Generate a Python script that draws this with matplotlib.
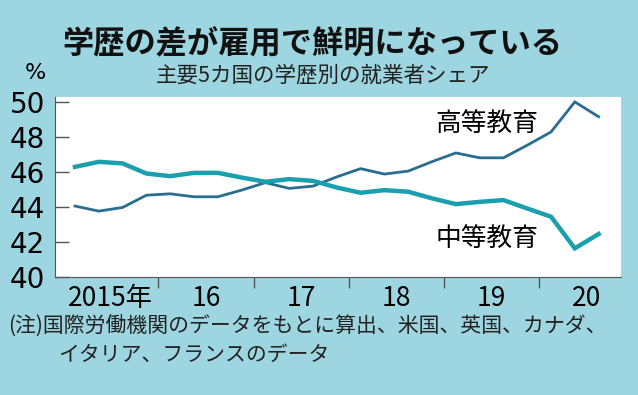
import matplotlib.pyplot as plt

plt.rcParams['font.family'] = ['Noto Sans CJK JP', 'DejaVu Sans']

# quarterly shares, 2015Q1 - 2020Q3 (%)
higher = [44.06, 43.77, 43.98, 44.68, 44.76, 44.59, 44.59, 44.97, 45.4, 45.07, 45.2,
          45.73, 46.2, 45.89, 46.06, 46.6, 47.1, 46.82, 46.82, 47.54, 48.3, 50.02, 49.17]
middle = [46.3, 46.59, 46.5, 45.92, 45.77, 45.96, 45.96, 45.69, 45.45, 45.6, 45.5,
          45.12, 44.82, 44.97, 44.88, 44.5, 44.17, 44.3, 44.4, 43.92, 43.45, 41.64, 42.46]
years = ['2015年', '16', '17', '18', '19', '20']
yticks = [40, 42, 44, 46, 48, 50]

bg = '#9dd6e0'
fig = plt.figure(figsize=(6.38, 3.95), dpi=100, facecolor=bg)
ax = fig.add_axes([55 / 638, 1 - 277 / 395, (621 - 55) / 638, (277 - 97) / 395])
ax.set_facecolor('white')

x = list(range(len(higher)))
ax.plot(x, higher, color='#2a6d8f', lw=2.0, solid_joinstyle='miter')
ax.plot(x, middle, color='#1a9fae', lw=3.2, solid_joinstyle='miter')

ax.set_xlim(-0.84, 22.94)
ax.set_ylim(40, 50.3)
ax.set_yticks(yticks)
ax.set_yticklabels([str(v) for v in yticks], fontsize=20, family='Liberation Sans Narrow')
ax.tick_params(axis='y', direction='in', length=10, width=1, color='#555555', pad=7)

ax.set_xticks([3.5, 7.5, 11.5, 15.5, 19.5])
ax.set_xticklabels([])
ax.set_xticks([1.5 + 4 * i for i in range(len(years))], minor=True)
ax.set_xticklabels(years, minor=True, fontsize=19,
                   family=['Liberation Sans Narrow', 'Noto Sans CJK JP'])
ax.tick_params(axis='x', which='major', direction='out', length=8, width=1, color='#555555')
ax.tick_params(axis='x', which='minor', length=0, pad=6)

for s in ['top', 'right']:
    ax.spines[s].set_visible(False)
for s in ['left', 'bottom']:
    ax.spines[s].set_color('#555555')

ax.text(17.3, 48.75, '高等教育', fontsize=18.5, ha='center', va='center')
ax.text(17.3, 42.2, '中等教育', fontsize=18.5, ha='center', va='center')

fig.text(312 / 638, 1 - 44 / 395, '学歴の差が雇用で鮮明になっている', fontsize=22.5,
         fontweight='bold', ha='center', va='center', color='#111111')
fig.text(323 / 638, 1 - 76 / 395, '主要5カ国の学歴別の就業者シェア', fontsize=15.5,
         ha='center', va='center', color='#222222')
fig.text(35 / 638, 1 - 73 / 395, '%', fontsize=16, ha='center', va='center',
         family='Liberation Sans Narrow')
fig.text(8 / 638, 1 - 327 / 395, '(注)国際労働機関のデータをもとに算出、米国、英国、カナダ、',
         fontsize=15, ha='left', va='center', color='#222222')
fig.text(58 / 638, 1 - 355 / 395, 'イタリア、フランスのデータ',
         fontsize=15, ha='left', va='center', color='#222222')

fig.savefig('out.png', dpi=100, facecolor=bg)
